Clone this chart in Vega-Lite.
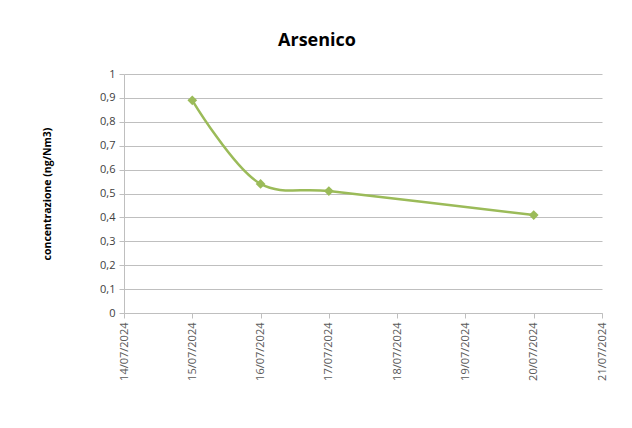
{
  "$schema": "https://vega.github.io/schema/vega-lite/v6.json",
  "width": 478,
  "height": 239,
  "autosize": "none",
  "padding": {"left": 124, "top": 74, "right": 30, "bottom": 115},
  "background": "white",
  "title": {
    "text": "Arsenico",
    "font": "Open Sans",
    "fontSize": 18,
    "fontWeight": "bold",
    "color": "black",
    "anchor": "middle",
    "dx": -46,
    "offset": 18
  },
  "data": {
    "values": [
      {"data": "2024-07-15", "valore": 0.89},
      {"data": "2024-07-16", "valore": 0.54},
      {"data": "2024-07-17", "valore": 0.51},
      {"data": "2024-07-20", "valore": 0.41}
    ],
    "format": {"parse": {"data": "utc:'%Y-%m-%d'"}}
  },
  "encoding": {
    "x": {
      "field": "data",
      "type": "temporal",
      "scale": {"type": "utc", "domain": [{"year": 2024, "month": 7, "date": 14, "utc": true}, {"year": 2024, "month": 7, "date": 21, "utc": true}]},
      "axis": {
        "title": null,
        "tickCount": 7,
        "labelExpr": "utcFormat(datum.value, '%d/%m/%Y')",
        "labelAngle": -90,
        "labelAlign": "right",
        "labelBaseline": "middle",
        "labelFont": "Open Sans",
        "labelFontSize": 11,
        "labelColor": "#595959",
        "labelPadding": 4,
        "tickSize": 5,
        "tickColor": "#bfbfbf",
        "domainColor": "#bfbfbf",
        "grid": false,
        "labelOverlap": false,
        "labelFlush": false
      }
    },
    "y": {
      "field": "valore",
      "type": "quantitative",
      "scale": {"domain": [0, 1], "nice": false},
      "axis": {
        "title": "concentrazione (ng/Nm3)",
        "titleFont": "Open Sans",
        "titleFontSize": 10.5,
        "titleFontWeight": "bold",
        "titleColor": "black",
        "titlePadding": 47,
        "values": [0, 0.1, 0.2, 0.3, 0.4, 0.5, 0.6, 0.7, 0.8, 0.9, 1],
        "format": ".1~f",
        "labelExpr": "replace(datum.label, '.', ',')",
        "labelFont": "Open Sans",
        "labelFontSize": 11,
        "labelColor": "#404040",
        "labelPadding": 4,
        "tickSize": 5,
        "tickColor": "#bfbfbf",
        "domainColor": "#bfbfbf",
        "gridColor": "#bfbfbf",
        "gridWidth": 1,
        "labelFlush": false
      }
    }
  },
  "layer": [
    {
      "mark": {"type": "line", "interpolate": "catmull-rom", "color": "#9bbb59", "strokeWidth": 2.5}
    },
    {
      "mark": {"type": "point", "shape": "diamond", "filled": true, "color": "#9bbb59", "size": 95, "opacity": 1}
    }
  ],
  "config": {"view": {"stroke": null}}
}
